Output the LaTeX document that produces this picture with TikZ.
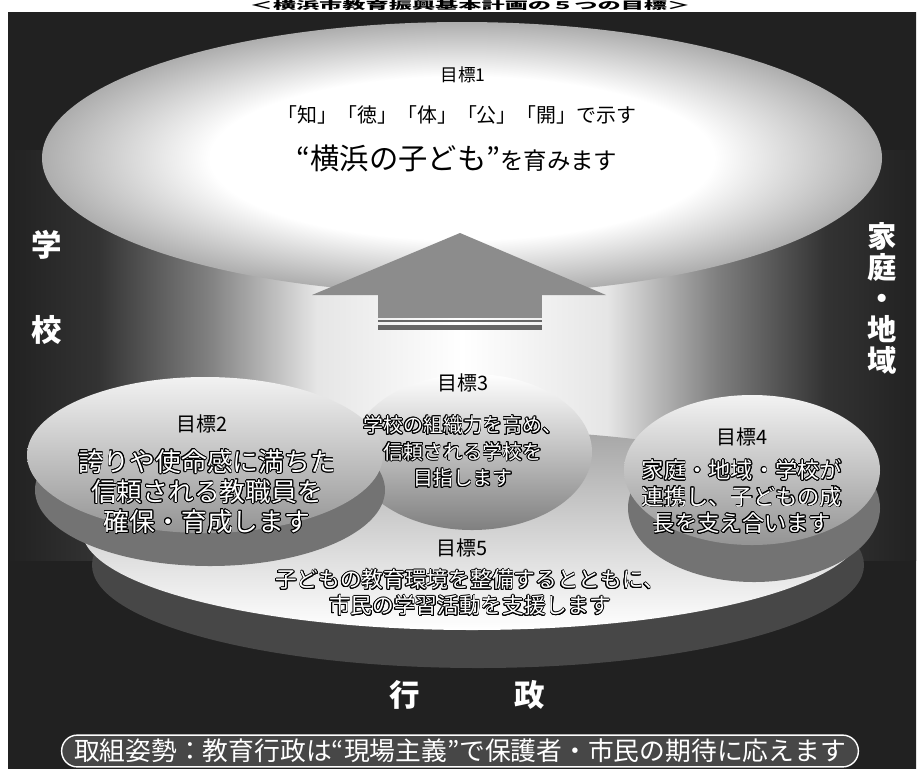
\documentclass[tikz,border=0pt]{standalone}
\usepackage{fontspec}
\setmainfont{Noto Sans CJK JP}
\usepackage[copies]{contour}
\contourlength{0.7pt}
\usepackage{tikz}
\usetikzlibrary{shapes.geometric, positioning}
\definecolor{framedark}{gray}{0.13}
\definecolor{framemid}{gray}{0.45}
\definecolor{sidegray}{gray}{0.45}
\definecolor{rimgray}{gray}{0.28}
% tikz fits the middle 50bp of a shading to the path
\pgfdeclareradialshading{glow}{\pgfpoint{0bp}{0bp}}{color(0bp)=(white); color(15bp)=(white); color(25bp)=(black!32); color(50bp)=(black!32)}
\pgfdeclarehorizontalshading{bandlight}{100bp}{color(0bp)=(framedark); color(25bp)=(framedark); color(30bp)=(black!80); color(36bp)=(black!50); color(42bp)=(black!10); color(50bp)=(white); color(58bp)=(black!10); color(64bp)=(black!50); color(70bp)=(black!80); color(75bp)=(framedark); color(100bp)=(framedark)}
\newcommand{\outl}[1]{\contour{black}{#1}}

\begin{document}
\begin{tikzpicture}[x=0.03cm, y=-0.03cm,
    goallabel/.style={font=\fontsize{17}{20}\selectfont, text=black},
    goalbody/.style={align=center, text=white},
    sidelabel/.style={font=\fontsize{26}{31}\bfseries\selectfont, text=white, align=center},
    discface/.style={top color=black!5, bottom color=black!42},
    discside/.style={fill=sidegray}
  ]
  % page and frame
  \fill[white] (0,0) rectangle (922,770);
  \clip (0,0) rectangle (922,770);
  \node[font=\fontsize{9}{10}\bfseries\selectfont, inner sep=0pt] (title) at (470,5.5) {\scalebox{2.2}[1]{＜横浜市教育振興基本計画の５つの目標＞}};
  \shade[left color=framedark, middle color=framemid, right color=framedark] (8,12) rectangle (916,768);
  \shade[shading=bandlight] (8,150) rectangle (916,560);

  % goal 1
  \shade[shading=glow] (462,158) ellipse [x radius=420, y radius=136];

  % arrow
  \fill[black!45] (312,295) -- (460,233) -- (606,295) -- cycle;
  \fill[black!45] (378,295) rectangle (542,318);
  \fill[black!60] (378,320) rectangle (542,322);
  \fill[black!60] (378,325) rectangle (542,330);

  % goal 5 platform
  \fill[rimgray] (478,565) ellipse [x radius=386, y radius=103];
  \shade[top color=black!35, bottom color=white] (472,530) ellipse [x radius=390, y radius=100];

  % goal 3
  \shade[top color=white, bottom color=black!50] (472,452) ellipse [x radius=120, y radius=78];

  % goal 2
  \fill[discside] (210,490) ellipse [x radius=175, y radius=76];
  \shade[discface] (205,455) ellipse [x radius=178, y radius=78];

  % goal 4
  \fill[discside] (754,508) ellipse [x radius=126, y radius=74];
  \shade[discface] (752,470) ellipse [x radius=128, y radius=75];

  % texts
  \node[goallabel, font=\fontsize{15}{18}\selectfont] (g1label) at (463,75) {目標1};
  \node[font=\fontsize{17}{20}\selectfont] (g1line) at (457,115) {「知」「徳」「体」「公」「開」で示す};
  \node (g1main) at (457,158) {{\fontsize{25}{30}\selectfont “横浜の子ども”}{\fontsize{20}{24}\selectfont を育みます}};

  \node[goallabel] (g2label) at (202,424) {目標2};
  \node[goalbody, font=\fontsize{22}{25.6}\selectfont] (g2body) at (207,492) {\outl{誇りや使命感に満ちた}\\\outl{信頼される教職員を}\\\outl{確保・育成します}};

  \node[goallabel] (g3label) at (463,383) {目標3};
  \node[goalbody, font=\fontsize{17}{22.6}\selectfont] (g3body) at (463,452) {\outl{学校の組織力を高め、}\\\outl{信頼される学校を}\\\outl{目指します}};

  \node[goallabel] (g4label) at (742,437) {目標4};
  \node[goalbody, font=\fontsize{19}{22.6}\selectfont] (g4body) at (742,497) {\outl{家庭・地域・学校が}\\\outl{連携し、子どもの成}\\\outl{長を支え合います}};

  \node[goallabel] (g5label) at (462,548) {目標5};
  \node[goalbody, font=\fontsize{18.5}{22.2}\selectfont] (g5body) at (470,593) {\outl{子どもの教育環境を整備するとともに、}\\\outl{市民の学習活動を支援します}};

  % sides
  \node[sidelabel] (gaku) at (47,245) {学};
  \node[sidelabel] (kou) at (47,330) {校};
  \node[sidelabel, font=\fontsize{25}{26.5}\bfseries\selectfont] (katei) at (882,298) {家\\庭\\・\\地\\域};
  \node[sidelabel] (gyo) at (405,695) {行};
  \node[sidelabel] (sei) at (530,695) {政};

  % stance
  \node[draw=white, line width=1.2pt, fill=black!72, rounded corners=0.47cm, minimum width=23.9cm, minimum height=0.95cm, text=white, font=\fontsize{22}{24}\selectfont] (stance) at (460,751) {取組姿勢：教育行政は“現場主義”で保護者・市民の期待に応えます};
\end{tikzpicture}
\end{document}
